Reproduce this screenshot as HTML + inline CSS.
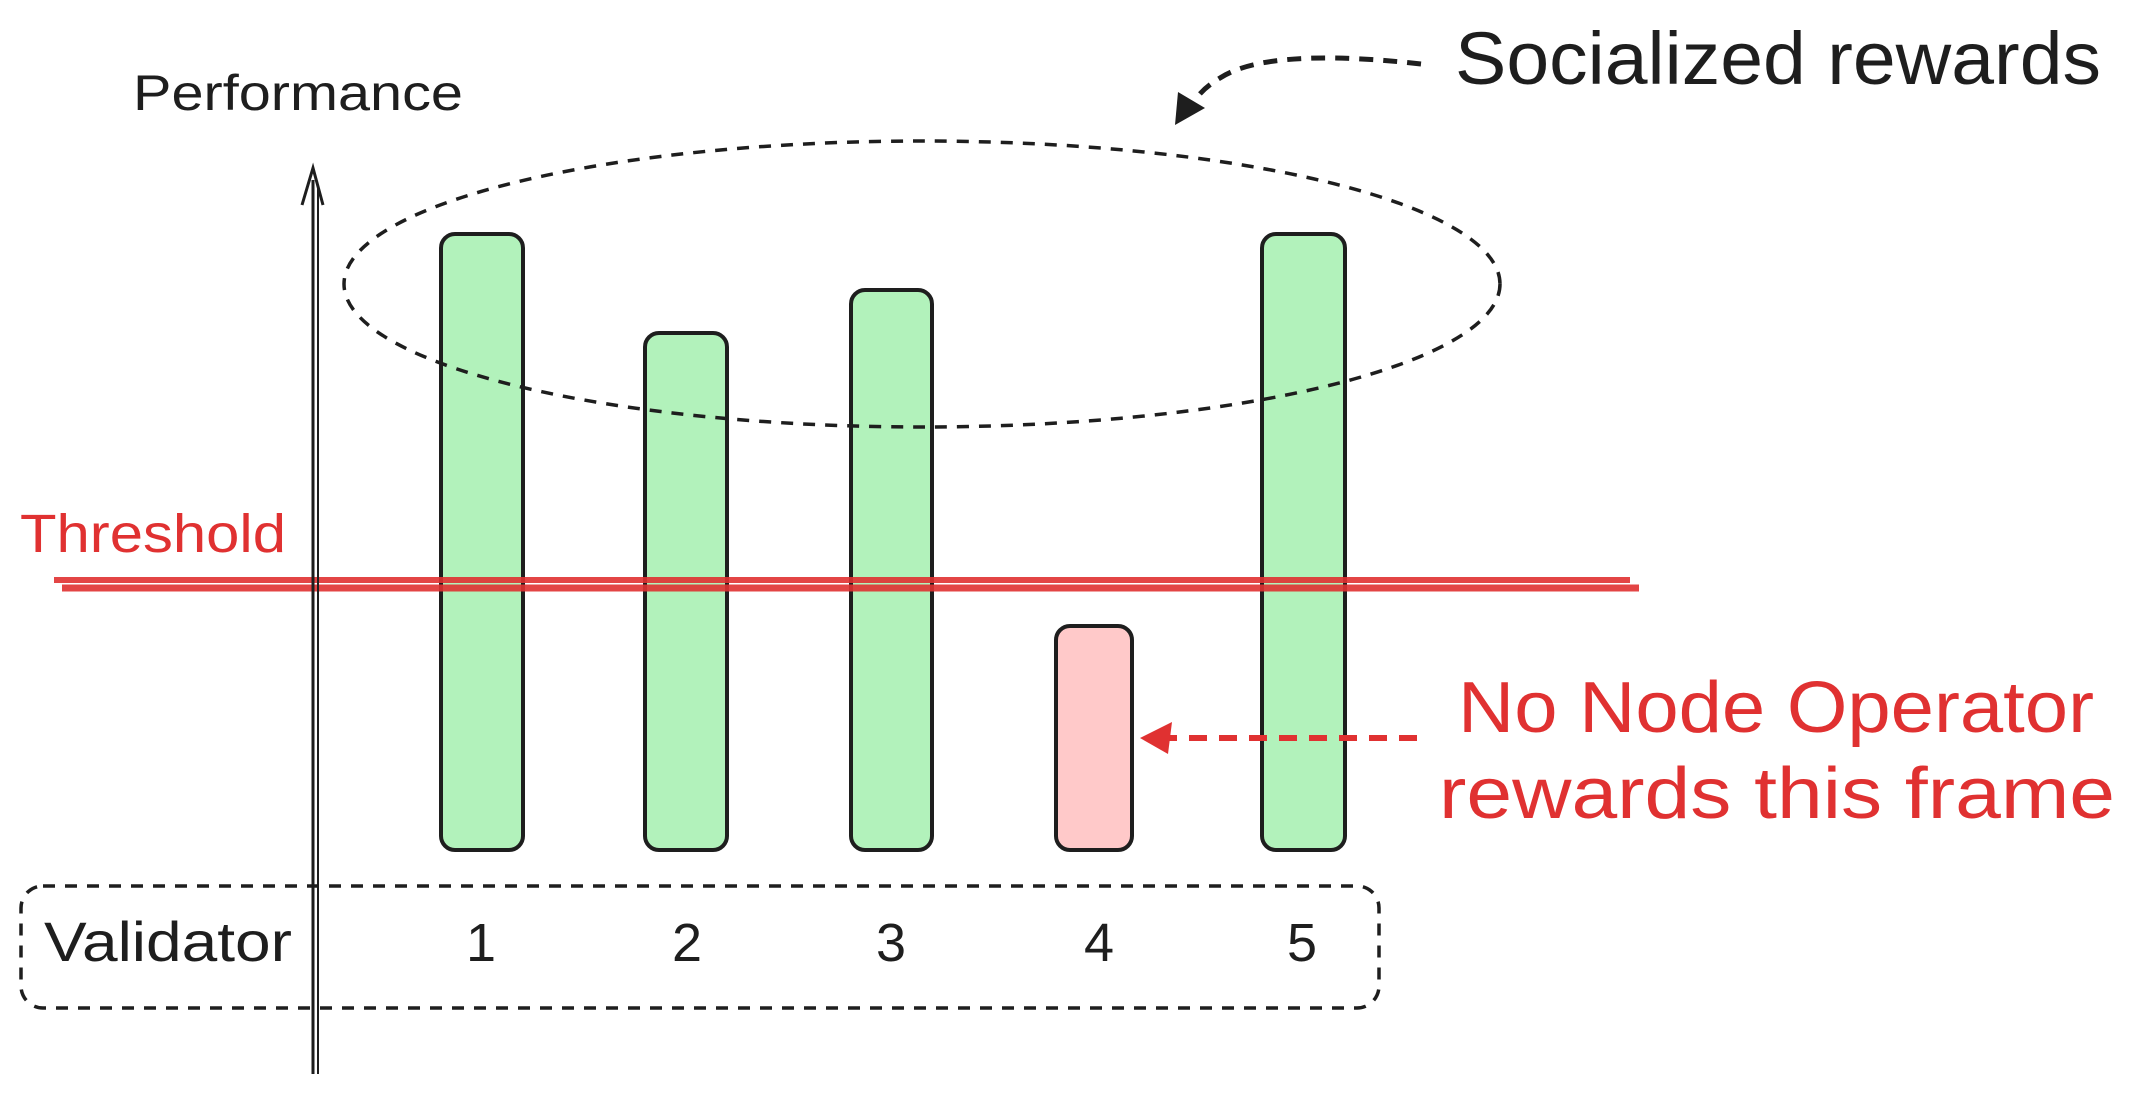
<!DOCTYPE html>
<html><head><meta charset="utf-8"><style>
html,body{margin:0;padding:0;background:#fff;}
svg{display:block;}
text{font-family:"Liberation Sans",sans-serif;}
</style></head><body>
<svg width="2133" height="1094" viewBox="0 0 2133 1094" xmlns="http://www.w3.org/2000/svg">
<!-- bars -->
<g stroke="#1e1e1e" stroke-width="4">
<rect x="441" y="234" width="82" height="616" rx="14" fill="#b2f2bb"/>
<rect x="645" y="333" width="82" height="517" rx="14" fill="#b2f2bb"/>
<rect x="851" y="290" width="81" height="560" rx="14" fill="#b2f2bb"/>
<rect x="1056" y="626" width="76" height="224" rx="14" fill="#ffc9c9"/>
<rect x="1262" y="234" width="83" height="616" rx="14" fill="#b2f2bb"/>
</g>
<!-- red threshold line -->
<line x1="54" y1="580" x2="1630" y2="580" stroke="#e03131" stroke-width="6" opacity="0.9"/>
<line x1="62" y1="588" x2="1639" y2="588" stroke="#e03131" stroke-width="7" opacity="0.9"/>
<!-- ellipse -->
<ellipse cx="922" cy="284" rx="578" ry="143" fill="none" stroke="#1e1e1e" stroke-width="3.5" stroke-dasharray="12 10"/>
<!-- axis -->
<line x1="313" y1="180" x2="313" y2="1074" stroke="#1e1e1e" stroke-width="3"/>
<line x1="318" y1="185" x2="318" y2="1074" stroke="#1e1e1e" stroke-width="2"/>
<path d="M302 205 L313 168 L323 205" fill="none" stroke="#1e1e1e" stroke-width="3"/>
<!-- validator box -->
<rect x="21" y="886" width="1358" height="122" rx="22" fill="none" stroke="#1e1e1e" stroke-width="3.5" stroke-dasharray="12 10"/>
<!-- socialized arrow -->
<path d="M1421 64 C1350 56 1260 52 1220 78 C1200 90 1195 100 1190 108" fill="none" stroke="#1e1e1e" stroke-width="5" stroke-dasharray="14 10"/>
<path d="M1178 92 L1205 108 L1175 125 Z" fill="#1e1e1e"/>
<!-- red arrow -->
<line x1="1417" y1="738" x2="1162" y2="738" stroke="#e03131" stroke-width="6" stroke-dasharray="18 12"/>
<path d="M1140 738 L1172 722 L1168 754 Z" fill="#e03131"/>
<!-- text -->
<text x="133" y="110" font-size="50" fill="#1e1e1e" textLength="330" lengthAdjust="spacingAndGlyphs">Performance</text>
<text x="1455" y="84" font-size="74" fill="#1e1e1e" textLength="646" lengthAdjust="spacingAndGlyphs">Socialized rewards</text>
<text x="20" y="552" font-size="54" fill="#e03131" textLength="266" lengthAdjust="spacingAndGlyphs">Threshold</text>
<text x="44" y="961" font-size="56" fill="#1e1e1e" textLength="248" lengthAdjust="spacingAndGlyphs">Validator</text>
<g font-size="54" fill="#1e1e1e" text-anchor="middle">
<text x="481" y="961">1</text><text x="687" y="961">2</text><text x="891" y="961">3</text><text x="1099" y="961">4</text><text x="1302" y="961">5</text>
</g>
<text x="1458" y="732" font-size="72" fill="#e03131" textLength="636" lengthAdjust="spacingAndGlyphs">No Node Operator</text>
<text x="1439" y="818" font-size="72" fill="#e03131" textLength="676" lengthAdjust="spacingAndGlyphs">rewards this frame</text>
</svg>
</body></html>
